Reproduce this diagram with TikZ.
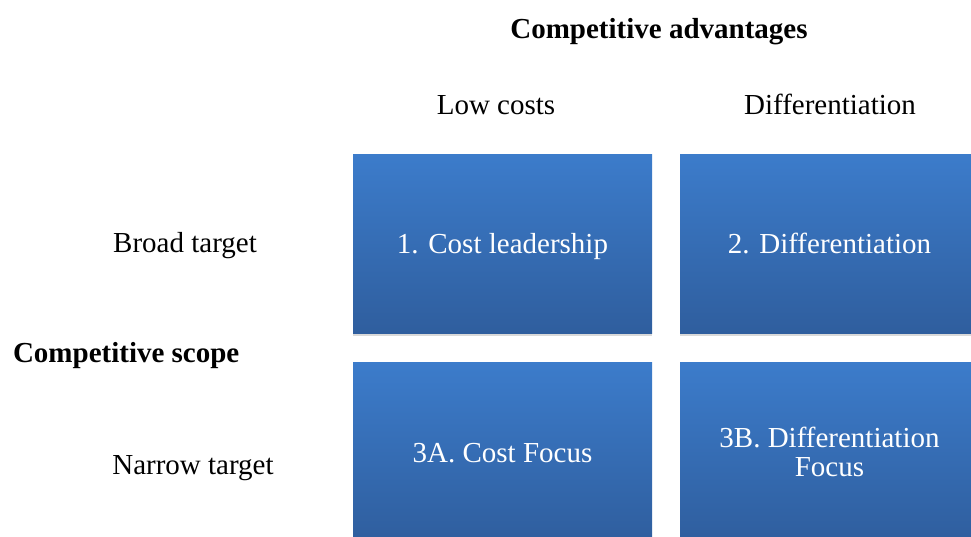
\documentclass[tikz,border=0pt]{standalone}
\usepackage{fontspec}
\setmainfont{Liberation Serif}
\usetikzlibrary{shadows}

\definecolor{boxtop}{RGB}{60,124,203}
\definecolor{boxbottom}{RGB}{47,94,158}

\begin{document}
\begin{tikzpicture}[
                x=1pt, y=-1pt,
                font=\fontsize{29}{29}\selectfont,
                strategy/.style={rectangle, minimum width=299pt, minimum height=179pt, inner sep=0pt,
                    top color=boxtop, bottom color=boxbottom, text=white, align=center,
                    drop shadow={opacity=0.3, shadow xshift=0pt, shadow yshift=-3pt}},
                oneline/.style={text height=20pt, text depth=0.5pt},
                axis/.style={anchor=base, font=\fontsize{29}{29}\selectfont\bfseries},
                level/.style={anchor=base}
            ]
                \useasboundingbox (0,0) rectangle (971,536);
                \clip (0,0) rectangle (971,536);

                % column and row headings
                \node[axis] (advantages) at (659, 38) {Competitive advantages};
                \node[level] (lowcost) at (496, 114) {Low costs};
                \node[level] (differ) at (830, 114) {Differentiation};

                \node[axis, anchor=base west] (scope) at (9.5, 362) {Competitive scope};
                \node[level] (broad) at (185, 252) {Broad target};
                \node[level] (narrow) at (193, 474) {Narrow target};

                % the four strategies
                \node[strategy, oneline] (leader) at (502.5, 243.5) {1. Cost leadership};
                \node[strategy, oneline] (diff) at (829.5, 243.5) {2. Differentiation};
                \node[strategy, oneline, text height=24pt, text depth=3pt] (costfocus) at (502.5, 451.5) {3A. Cost Focus};
                \node[strategy] (difffocus) at (829.5, 451.5) {3B. Differentiation\\Focus};
            \end{tikzpicture}
\end{document}
